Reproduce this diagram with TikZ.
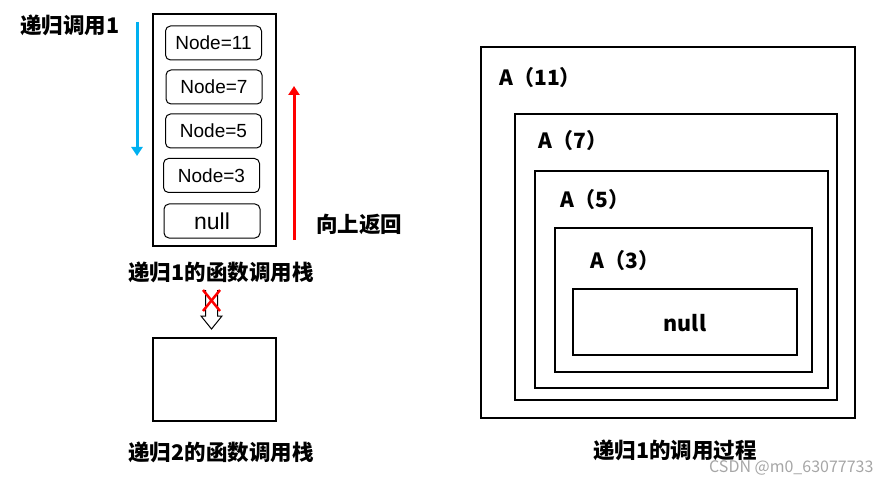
\documentclass[tikz,border=0pt]{standalone}
\usepackage{fontspec}
\setmainfont{Noto Sans CJK SC}
\setsansfont{Noto Sans CJK SC}
\newfontfamily\itemfont{Liberation Sans}
\usetikzlibrary{positioning,arrows.meta}
\definecolor{callblue}{RGB}{0,176,240}
\definecolor{backred}{RGB}{255,0,0}
\tikzset{
	frame/.style={draw, line width=1.2pt},
	stackitem/.style={draw, line width=1pt, rounded corners=5pt, minimum width=96pt, minimum height=34pt, inner sep=0pt, font=\itemfont\fontsize{19}{19}\selectfont},
	titletext/.style={font=\bfseries\fontsize{21.5}{21.5}\selectfont},
	lbl/.style={font=\bfseries\fontsize{21}{21}\selectfont, anchor=west},
}
\begin{document}
\begin{tikzpicture}[x=1pt,y=-1pt]
	\useasboundingbox (0,0) rectangle (890,486);
	% function call stack of recursion 1
	\draw[frame] (153,14) rectangle (276,246);
	\node[stackitem] (n11) at (213.5,43) {Node=11};
	\node[stackitem] (n7) at (214,87) {Node=7};
	\node[stackitem] (n5) at (213.5,131) {Node=5};
	\node[stackitem] (n3) at (211.5,175.5) {Node=3};
	\node[stackitem, font=\itemfont\fontsize{23}{23}\selectfont] (nnull) at (212,221) {null};
	\node[titletext] (calllbl) at (70,25) {递归调用1};
	\node[titletext] (backlbl) at (359,224) {向上返回};
	\node[titletext] (stack1) at (221,272) {递归1的函数调用栈};
	\coordinate (bluetop) at (137,22);
	\coordinate (bluebot) at (137,156);
	\coordinate (redbot) at (294,240);
	\coordinate (redtop) at (294,86);
	\draw[callblue, line width=3pt, -{Triangle[length=9pt,width=11pt]}] (bluetop) -- (bluebot);
	\draw[backred, line width=3pt, -{Triangle[length=9pt,width=11pt]}] (redbot) -- (redtop);
	% blocked hollow arrow
	\draw[line width=1pt] (205.5,290) -- (205.5,316) -- (201,316) -- (211.5,329) -- (222,316) -- (217.5,316) -- (217.5,290);
	\draw[backred, line width=2.5pt] (203,290) -- (220,311);
	\draw[backred, line width=2.5pt] (220,290) -- (203,311);
	% function call stack of recursion 2
	\draw[frame] (153,338) rectangle (276,421);
	\node[titletext] (stack2) at (221,452) {递归2的函数调用栈};
	% nested calls
	\draw[frame] (481,47) rectangle (855,418);
	\draw[frame] (515,114) rectangle (837,400);
	\draw[frame] (535,171) rectangle (828,388);
	\draw[frame] (555,228) rectangle (812,372);
	\draw[frame] (573,289) rectangle (797,355);
	\node[lbl] (a11) at (496,78) {A（11）};
	\node[lbl] (a7) at (535,141) {A（7）};
	\node[lbl] (a5) at (557,200) {A（5）};
	\node[lbl] (a3) at (587,261) {A（3）};
	\node[titletext] (anull) at (685,323) {null};
	\node[titletext] (proc) at (675,450) {递归1的调用过程};
	\node[font=\fontsize{16}{16}\selectfont, text=gray!70, anchor=east] (mark) at (877,468) {CSDN @m0\_63077733};
\end{tikzpicture}
\end{document}
